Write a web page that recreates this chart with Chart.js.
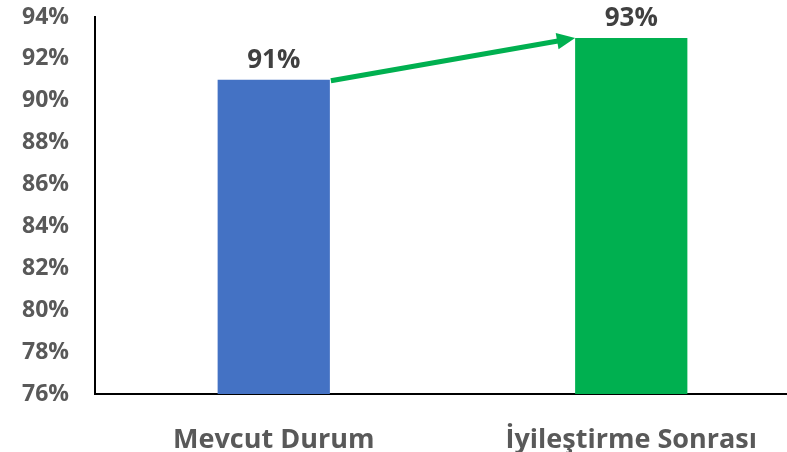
<!DOCTYPE html>
<html>
<head>
<meta charset="utf-8">
<script src="https://cdn.jsdelivr.net/npm/chart.js@4.4.0/dist/chart.umd.min.js"></script>
<style>
  html, body { margin: 0; padding: 0; background: #fff; overflow: hidden; }
  #wrap { width: 787px; height: 452px; overflow: hidden; }
</style>
</head>
<body>
<div id="wrap"><canvas id="chart" width="810" height="452"></canvas></div>
<script>
const categories = ['Mevcut Durum', 'İyileştirme Sonrası'];
const values = [91, 93];
const barColors = ['#4472C4', '#00B050'];
const yMin = 76;
const yMax = 94;

const FONT = '"Open Sans", sans-serif';

// value labels above the bars
const barLabels = {
  id: 'barLabels',
  afterDatasetsDraw(chart) {
    const ctx = chart.ctx;
    const meta = chart.getDatasetMeta(0);
    ctx.save();
    ctx.font = 'bold 26px ' + FONT;
    ctx.fillStyle = '#404040';
    ctx.textAlign = 'center';
    ctx.textBaseline = 'bottom';
    meta.data.forEach((bar, i) => {
      ctx.fillText(values[i] + '%', bar.x, bar.y - 6);
    });
    ctx.restore();
  }
};

// green arrow from first bar top to second bar top
const arrow = {
  id: 'arrow',
  afterDatasetsDraw(chart) {
    const ctx = chart.ctx;
    const meta = chart.getDatasetMeta(0);
    const a = meta.data[0], b = meta.data[1];
    const x1 = a.x + a.width / 2 + 1, y1 = a.y + 1;
    const x2 = b.x - b.width / 2, y2 = b.y;
    const ang = Math.atan2(y2 - y1, x2 - x1);
    const head = 20;
    ctx.save();
    ctx.strokeStyle = '#00B050';
    ctx.fillStyle = '#00B050';
    ctx.lineWidth = 5;
    ctx.beginPath();
    ctx.moveTo(x1, y1);
    ctx.lineTo(x2 - head * 0.8 * Math.cos(ang), y2 - head * 0.8 * Math.sin(ang));
    ctx.stroke();
    ctx.beginPath();
    ctx.moveTo(x2, y2);
    ctx.lineTo(x2 - head * Math.cos(ang - 0.42), y2 - head * Math.sin(ang - 0.42));
    ctx.lineTo(x2 - head * Math.cos(ang + 0.42), y2 - head * Math.sin(ang + 0.42));
    ctx.closePath();
    ctx.fill();
    ctx.restore();
  }
};

new Chart(document.getElementById('chart').getContext('2d'), {
  type: 'bar',
  data: {
    labels: categories,
    datasets: [{
      data: values,
      backgroundColor: barColors,
      borderWidth: 0,
      categoryPercentage: 1,
      barPercentage: 0.314
    }]
  },
  options: {
    responsive: false,
    animation: false,
    layout: { padding: { top: 17, right: 0, left: 0, bottom: 0 } },
    plugins: { legend: { display: false }, tooltip: { enabled: false } },
    scales: {
      x: {
        grid: { display: false },
        border: { display: true, color: '#000', width: 2 },
        ticks: {
          color: '#595959',
          font: { family: FONT, size: 27, weight: 'bold' },
          padding: 22,
          maxRotation: 0
        },
        afterFit(scale) { scale.height = 58; }
      },
      y: {
        min: yMin,
        max: yMax,
        grid: { display: false },
        border: { display: true, color: '#000', width: 2 },
        ticks: {
          stepSize: 2,
          color: '#595959',
          font: { family: FONT, size: 23, weight: 'bold' },
          padding: 18,
          callback: v => v + '%'
        },
        afterFit(scale) {
          scale.width = 95;
          scale.paddingTop = 0;
          scale.paddingBottom = 0;
        }
      }
    }
  },
  plugins: [barLabels, arrow]
});
</script>
</body>
</html>
